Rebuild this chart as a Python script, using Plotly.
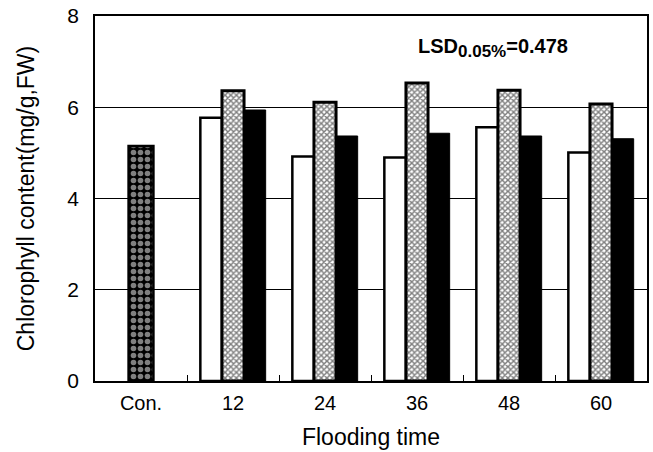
import plotly.graph_objects as go

categories = ["Con.", "12", "24", "36", "48", "60"]
flood_cats = ["12", "24", "36", "48", "60"]
control_value = [5.15]
series_white = [5.77, 4.92, 4.90, 5.56, 5.01]
series_hatched = [6.36, 6.11, 6.53, 6.37, 6.07]
series_black = [5.94, 5.37, 5.43, 5.37, 5.31]
y_ticks = [0, 2, 4, 6, 8]

FONT = "Liberation Sans, Arial, sans-serif"

fig = go.Figure()
fig.add_trace(go.Bar(
    x=["Con."], y=control_value, width=0.27, offset=-0.135,
    marker=dict(color="black", line=dict(color="black", width=2.5),
                pattern=dict(shape=".", bgcolor="black", fgcolor="white", size=7, solidity=0.5)),
    showlegend=False))
fig.add_trace(go.Bar(
    x=flood_cats, y=series_white, width=0.235, offset=-0.355,
    marker=dict(color="white", line=dict(color="black", width=2.5)),
    showlegend=False))
fig.add_trace(go.Bar(
    x=flood_cats, y=series_hatched, width=0.24, offset=-0.12,
    marker=dict(color="white", line=dict(color="black", width=3),
                pattern=dict(shape="x", bgcolor="white", fgcolor="black", size=4, solidity=0.6)),
    showlegend=False))
fig.add_trace(go.Bar(
    x=flood_cats, y=series_black, width=0.235, offset=0.12,
    marker=dict(color="black", line=dict(color="black", width=1)),
    showlegend=False))

fig.add_annotation(
    x=0.582, y=7.3, xref="paper", yref="y", xanchor="left", yanchor="middle",
    text="<b>LSD<sub><span style='font-size:17px'>0.05%</span></sub>=0.478</b>", showarrow=False,
    font=dict(family=FONT, size=20, color="black"))

fig.update_layout(
    width=653, height=452,
    margin=dict(l=95, r=6, t=16, b=71, autoexpand=False),
    paper_bgcolor="white", plot_bgcolor="white",
    font=dict(family=FONT, color="black", size=18),
    xaxis=dict(type="category", categoryorder="array", categoryarray=categories,
               showline=True, linecolor="black", linewidth=1.5, mirror=True,
               ticks="inside", ticklen=6, tickcolor="black", tickson="boundaries",
               showgrid=False, automargin=False, ticklabelstandoff=3,
               title=dict(text="Flooding time", font=dict(size=23), standoff=16),
               tickfont=dict(size=20)),
    yaxis=dict(range=[0, 8], tickvals=y_ticks, showline=True, linecolor="black",
               linewidth=1.5, mirror=True, showgrid=True, gridcolor="black", gridwidth=1,
               ticks="", zeroline=False, automargin=False, ticklabelstandoff=10,
               title=dict(text="Chlorophyll content(mg/g,FW)", font=dict(size=23), standoff=26),
               tickfont=dict(size=21)),
)

post = ("document.body.style.margin='0';document.body.style.overflow='hidden';"
        "var gd=document.getElementById('{plot_id}');"
        "Plotly.relayout(gd,{width:653,height:452});")
fig.write_html("out.html", post_script=post, config={"displayModeBar": False})
